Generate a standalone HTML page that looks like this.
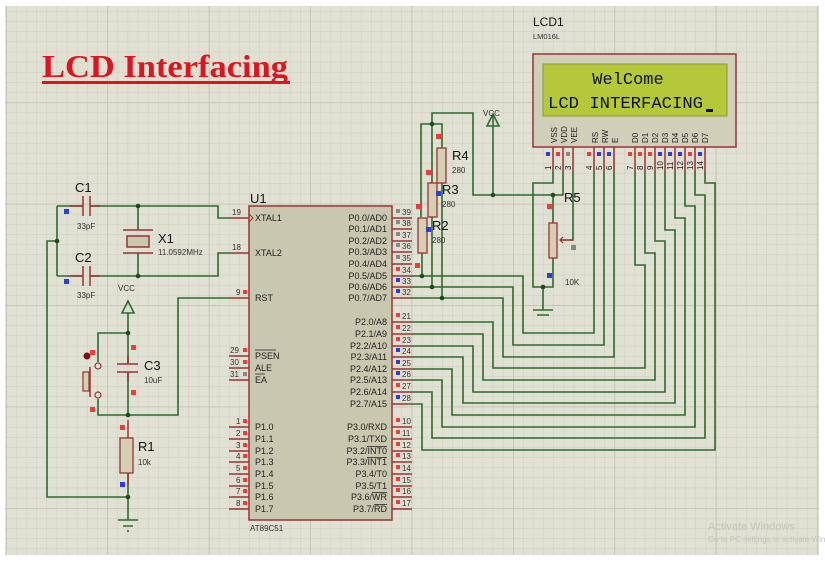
<!DOCTYPE html>
<html><head><meta charset="utf-8"><style>
html,body{margin:0;padding:0;background:#fff;}
svg{display:block;font-family:"Liberation Sans",sans-serif;}
.w{stroke:#2e6b2e;stroke-width:1.6;fill:none;}
.p{stroke:#9a3232;stroke-width:1.5;fill:none;}
.t{font-size:9px;fill:#222;}
.L{font-size:13px;fill:#111;}
.s{font-size:8px;fill:#333;}
.r{fill:#ee3b3b}.b{fill:#2b3de0}.g{fill:#888}
</style></head><body>
<svg width="825" height="561" viewBox="0 0 825 561" xmlns="http://www.w3.org/2000/svg">
<defs>
<pattern id="mn" x="6" y="1" width="10.14" height="10.14" patternUnits="userSpaceOnUse">
<path d="M0 0H10.14M0 0V10.14" stroke="#cdcdc0" stroke-width="1"/></pattern>
<pattern id="mj" x="6" y="1" width="101.4" height="101.4" patternUnits="userSpaceOnUse">
<path d="M0 0H101.4M0 0V101.4" stroke="#bdbdae" stroke-width="1.3"/></pattern>
</defs>
<rect x="5" y="6" width="814" height="549" fill="#e0e0d3"/>
<rect x="5" y="6" width="814" height="549" fill="url(#mn)"/>
<rect x="5" y="6" width="814" height="549" fill="url(#mj)"/>

<text x="42" y="77" font-family="Liberation Serif,serif" font-weight="bold" font-size="32" fill="#e0141e" textLength="246" lengthAdjust="spacingAndGlyphs">LCD Interfacing</text>
<rect x="42" y="81" width="248" height="3" fill="#e0141e"/>

<text x="533" y="26" class="L" style="font-size:12px">LCD1</text>
<text x="533" y="39" class="s" style="font-size:7.5px">LM016L</text>
<rect x="533" y="54" width="203" height="93" fill="#d0cfba" stroke="#9a3232" stroke-width="1.5"/>
<rect x="543" y="64" width="184" height="52" fill="#b4c83a" stroke="#8a9a30"/>
<text x="628" y="84" text-anchor="middle" font-family="Liberation Mono,monospace" font-size="17" fill="#111">WelCome</text>
<text x="548" y="108" font-family="Liberation Mono,monospace" font-size="17" fill="#111" textLength="155" lengthAdjust="spacingAndGlyphs">LCD INTERFACING</text>
<rect x="706" y="109" width="7" height="3" fill="#111"/>
<g font-size="8" fill="#222">
<text transform="translate(557,143) rotate(-90)">VSS</text>
<text transform="translate(567,143) rotate(-90)">VDD</text>
<text transform="translate(577,143) rotate(-90)">VEE</text>
<text transform="translate(598,143) rotate(-90)">RS</text>
<text transform="translate(608,143) rotate(-90)">RW</text>
<text transform="translate(618,143) rotate(-90)">E</text>
<text transform="translate(638,143) rotate(-90)">D0</text>
<text transform="translate(648,143) rotate(-90)">D1</text>
<text transform="translate(658,143) rotate(-90)">D2</text>
<text transform="translate(668,143) rotate(-90)">D3</text>
<text transform="translate(678,143) rotate(-90)">D4</text>
<text transform="translate(688,143) rotate(-90)">D5</text>
<text transform="translate(698,143) rotate(-90)">D6</text>
<text transform="translate(708,143) rotate(-90)">D7</text>
</g>
<g class="p">
<path d="M553 147V171M563 147V171M573 147V171M594 147V171M604 147V171M614 147V171M635 147V171M645 147V171M655 147V171M665 147V171M675 147V171M685 147V171M695 147V171M705 147V171"/>
</g>
<g font-size="8" fill="#222">
<text transform="translate(551,170) rotate(-90)">1</text>
<text transform="translate(561,170) rotate(-90)">2</text>
<text transform="translate(571,170) rotate(-90)">3</text>
<text transform="translate(592,170) rotate(-90)">4</text>
<text transform="translate(602,170) rotate(-90)">5</text>
<text transform="translate(612,170) rotate(-90)">6</text>
<text transform="translate(633,170) rotate(-90)">7</text>
<text transform="translate(643,170) rotate(-90)">8</text>
<text transform="translate(653,170) rotate(-90)">9</text>
<text transform="translate(663,170) rotate(-90)">10</text>
<text transform="translate(673,170) rotate(-90)">11</text>
<text transform="translate(683,170) rotate(-90)">12</text>
<text transform="translate(693,170) rotate(-90)">13</text>
<text transform="translate(703,170) rotate(-90)">14</text>
</g>
<g>
<rect x="546" y="152" width="4" height="4" class="b"/><rect x="556" y="152" width="4" height="4" class="r"/><rect x="566" y="152" width="4" height="4" class="g"/>
<rect x="587" y="152" width="4" height="4" class="r"/><rect x="597" y="152" width="4" height="4" class="b"/><rect x="607" y="152" width="4" height="4" class="b"/>
<rect x="628" y="152" width="4" height="4" class="r"/><rect x="638" y="152" width="4" height="4" class="r"/><rect x="648" y="152" width="4" height="4" class="r"/><rect x="658" y="152" width="4" height="4" class="b"/><rect x="668" y="152" width="4" height="4" class="b"/><rect x="678" y="152" width="4" height="4" class="b"/><rect x="688" y="152" width="4" height="4" class="r"/><rect x="698" y="152" width="4" height="4" class="b"/>
</g>

<text x="250" y="203" class="L">U1</text>
<rect x="249" y="206" width="143" height="314" fill="#c8c7af" stroke="#9a3232" stroke-width="1.5"/>
<text x="250" y="531" class="s">AT89C51</text>
<g class="p">
<path d="M229 218H249M229 253H249M229 298H249M229 356H249M229 368H249M229 380H249"/>
<path d="M229 427H249M229 439H249M229 451H249M229 462H249M229 474H249M229 486H249M229 497H249M229 509H249"/>
<path d="M392 218H412M392 229H412M392 241H412M392 252H412M392 264H412M392 276H412M392 287H412M392 298H412"/>
<path d="M392 322H412M392 334H412M392 346H412M392 357H412M392 369H412M392 380H412M392 392H412M392 404H412"/>
<path d="M392 427H412M392 439H412M392 451H412M392 462H412M392 474H412M392 486H412M392 497H412M392 509H412"/>
</g>
<path d="M249 214L253 218L249 222" fill="none" stroke="#9a3232" stroke-width="1"/>
<g class="t">
<text x="255" y="221">XTAL1</text><text x="255" y="256">XTAL2</text><text x="255" y="301">RST</text>
<text x="255" y="359">PSEN</text><text x="255" y="371">ALE</text><text x="255" y="383">EA</text>
<text x="255" y="430">P1.0</text><text x="255" y="442">P1.1</text><text x="255" y="454">P1.2</text><text x="255" y="465">P1.3</text><text x="255" y="477">P1.4</text><text x="255" y="489">P1.5</text><text x="255" y="500">P1.6</text><text x="255" y="512">P1.7</text>
</g>
<path d="M255 350H276M255 374H265" stroke="#222" stroke-width="0.8"/>
<g class="t" text-anchor="end">
<text x="387" y="221">P0.0/AD0</text><text x="387" y="232">P0.1/AD1</text><text x="387" y="244">P0.2/AD2</text><text x="387" y="255">P0.3/AD3</text><text x="387" y="267">P0.4/AD4</text><text x="387" y="279">P0.5/AD5</text><text x="387" y="290">P0.6/AD6</text><text x="387" y="301">P0.7/AD7</text>
<text x="387" y="325">P2.0/A8</text><text x="387" y="337">P2.1/A9</text><text x="387" y="349">P2.2/A10</text><text x="387" y="360">P2.3/A11</text><text x="387" y="372">P2.4/A12</text><text x="387" y="383">P2.5/A13</text><text x="387" y="395">P2.6/A14</text><text x="387" y="407">P2.7/A15</text>
<text x="387" y="430">P3.0/RXD</text><text x="387" y="442">P3.1/TXD</text><text x="387" y="454">P3.2/INT0</text><text x="387" y="465">P3.3/INT1</text><text x="387" y="477">P3.4/T0</text><text x="387" y="489">P3.5/T1</text><text x="387" y="500">P3.6/WR</text><text x="387" y="512">P3.7/RD</text>
</g>
<path d="M367 446.5H387M367 457.5H387M372 492.5H387M374 504.5H387" stroke="#222" stroke-width="0.8"/>
<g class="s" font-size="8.5">
<text x="232" y="215">19</text><text x="232" y="250">18</text><text x="236" y="295">9</text>
<text x="230" y="353">29</text><text x="230" y="365">30</text><text x="230" y="377">31</text>
<text x="236" y="424">1</text><text x="236" y="436">2</text><text x="236" y="448">3</text><text x="236" y="459">4</text><text x="236" y="471">5</text><text x="236" y="483">6</text><text x="236" y="494">7</text><text x="236" y="506">8</text>
<text x="402" y="215">39</text><text x="402" y="226">38</text><text x="402" y="238">37</text><text x="402" y="249">36</text><text x="402" y="261">35</text><text x="402" y="273">34</text><text x="402" y="284">33</text><text x="402" y="295">32</text>
<text x="402" y="319">21</text><text x="402" y="331">22</text><text x="402" y="343">23</text><text x="402" y="354">24</text><text x="402" y="366">25</text><text x="402" y="377">26</text><text x="402" y="389">27</text><text x="402" y="401">28</text>
<text x="402" y="424">10</text><text x="402" y="436">11</text><text x="402" y="448">12</text><text x="402" y="459">13</text><text x="402" y="471">14</text><text x="402" y="483">15</text><text x="402" y="494">16</text><text x="402" y="506">17</text>
</g>
<g>
<rect x="243" y="290" width="4" height="4" class="r"/><rect x="243" y="348" width="4" height="4" class="r"/><rect x="243" y="360" width="4" height="4" class="r"/><rect x="243" y="372" width="4" height="4" class="g"/>
<rect x="243" y="419" width="4" height="4" class="r"/><rect x="243" y="431" width="4" height="4" class="r"/><rect x="243" y="443" width="4" height="4" class="r"/><rect x="243" y="454" width="4" height="4" class="r"/><rect x="243" y="466" width="4" height="4" class="r"/><rect x="243" y="478" width="4" height="4" class="r"/><rect x="243" y="489" width="4" height="4" class="r"/><rect x="243" y="501" width="4" height="4" class="r"/>
<rect x="396" y="209" width="4" height="4" class="g"/><rect x="396" y="220" width="4" height="4" class="g"/><rect x="396" y="232" width="4" height="4" class="g"/><rect x="396" y="243" width="4" height="4" class="g"/><rect x="396" y="255" width="4" height="4" class="g"/><rect x="396" y="267" width="4" height="4" class="r"/><rect x="396" y="278" width="4" height="4" class="b"/><rect x="396" y="289" width="4" height="4" class="b"/>
<rect x="396" y="313" width="4" height="4" class="r"/><rect x="396" y="325" width="4" height="4" class="r"/><rect x="396" y="337" width="4" height="4" class="r"/><rect x="396" y="348" width="4" height="4" class="b"/><rect x="396" y="360" width="4" height="4" class="b"/><rect x="396" y="371" width="4" height="4" class="b"/><rect x="396" y="383" width="4" height="4" class="r"/><rect x="396" y="395" width="4" height="4" class="b"/>
<rect x="396" y="418" width="4" height="4" class="r"/><rect x="396" y="430" width="4" height="4" class="r"/><rect x="396" y="442" width="4" height="4" class="r"/><rect x="396" y="453" width="4" height="4" class="r"/><rect x="396" y="465" width="4" height="4" class="r"/><rect x="396" y="477" width="4" height="4" class="r"/><rect x="396" y="488" width="4" height="4" class="r"/><rect x="396" y="500" width="4" height="4" class="r"/>
</g>

<g class="w">
<path d="M412 276H523V333H594V171"/>
<path d="M412 287H513V345H604V171"/>
<path d="M412 298H503V357H614V171"/>
<path d="M412 322H493V368H645V265H635V171"/>
<path d="M412 334H483V380H655V253H645V171"/>
<path d="M412 346H473V392H665V241H655V171"/>
<path d="M412 357H463V403H675V230H665V171"/>
<path d="M412 369H452V415H685V218H675V171"/>
<path d="M412 380H442V427H695V206H685V171"/>
<path d="M412 392H432V438H705V195H695V171"/>
<path d="M412 404H422V450H715V183H705V171"/>
<path d="M432 183V113H473V195H563V171"/>
<path d="M421 217V124H442V148"/>
<path d="M442 183V298M432 217V287M422 253V276"/>
<path d="M493 195V116"/>
<path d="M553 171V183H533V287H553V258M553 195V223M573 171V240H561"/>
<path d="M543 287V310M533 310H553M537 315H549"/>
</g>
<path d="M487 126L493 114L499 126Z" fill="none" stroke="#2e6b2e" stroke-width="1.6"/>
<text x="483" y="116" class="s">VCC</text>
<g fill="#1e4a1e">
<circle cx="432" cy="124" r="2.3"/><circle cx="493" cy="195" r="2.3"/><circle cx="553" cy="195" r="2.3"/><circle cx="543" cy="287" r="2.3"/>
<circle cx="422" cy="276" r="2.3"/><circle cx="432" cy="287" r="2.3"/><circle cx="442" cy="298" r="2.3"/>
</g>
<g fill="#d4d0b4" stroke="#9a3232" stroke-width="1.3">
<rect x="437" y="148" width="9" height="35"/>
<rect x="428" y="183" width="9" height="34"/>
<rect x="418" y="218" width="9" height="35"/>
<rect x="549" y="223" width="8" height="35"/>
</g>
<path d="M573 240H560M563 237L560 240L563 243" stroke="#9a3232" stroke-width="1.2" fill="none"/>
<rect x="436" y="134" width="5" height="5" class="r"/><rect x="426" y="170" width="5" height="5" class="r"/><rect x="416" y="204" width="5" height="5" class="r"/><rect x="415" y="263" width="5" height="5" class="r"/>
<rect x="436" y="191" width="5" height="5" class="b"/><rect x="426" y="227" width="5" height="5" class="b"/>
<rect x="547" y="204" width="5" height="5" class="r"/><rect x="547" y="273" width="5" height="5" class="b"/><rect x="571" y="245" width="5" height="5" class="g"/>
<text x="452" y="160" class="L">R4</text><text x="452" y="173" class="s">280</text>
<text x="442" y="194" class="L">R3</text><text x="442" y="207" class="s">280</text>
<text x="432" y="230" class="L">R2</text><text x="432" y="243" class="s">280</text>
<text x="564" y="202" class="L">R5</text><text x="565" y="285" class="s">10K</text>

<g class="w">
<path d="M57 206H83M90 206H218V218H229"/>
<path d="M57 276H83M90 276H218V253H229"/>
<path d="M57 206V276M57 241H47V497H128"/>
<path d="M138 206V230M138 253V276"/>
<path d="M128 313V333H98V362M98 399V415H178V298H229"/>
<path d="M128 333V364M128 372V415M128 473V520"/>
<path d="M118 520H138M123 526H133M127 531H129"/>
</g>
<path d="M122 313L128 301L134 313Z" fill="none" stroke="#2e6b2e" stroke-width="1.6"/>
<text x="118" y="291" class="s">VCC</text>
<g stroke="#9a3232" stroke-width="1.5" fill="none">
<path d="M70 206H83M83 196V216M90 196V216M90 206H100"/>
<path d="M70 276H83M83 266V286M90 266V286M90 276H100"/>
<path d="M123 230H153M123 253H153"/>
<path d="M117 364H138M117 372H138M128 356V364M128 372V382"/>
<path d="M128 420V438M128 473V485"/>
<path d="M90 367V397"/>
</g>
<rect x="127" y="236" width="22" height="11" fill="#c8c7af" stroke="#9a3232" stroke-width="1.5"/>
<rect x="120" y="438" width="13" height="35" fill="#d4d0b4" stroke="#9a3232" stroke-width="1.3"/>
<rect x="83" y="372" width="6" height="19" fill="#d4d0b4" stroke="#9a3232" stroke-width="1.2"/>
<circle cx="98" cy="366" r="3" fill="#e0e0d3" stroke="#9a3232" stroke-width="1.2"/>
<circle cx="98" cy="395" r="3" fill="#e0e0d3" stroke="#9a3232" stroke-width="1.2"/>
<circle cx="87" cy="356" r="3.5" fill="#7a1010"/>
<rect x="90" y="350" width="5" height="5" class="r"/><rect x="90" y="407" width="5" height="5" class="r"/>
<rect x="131" y="345" width="5" height="5" class="r"/><rect x="131" y="390" width="5" height="5" class="r"/>
<rect x="120" y="425" width="5" height="5" class="r"/><rect x="120" y="482" width="5" height="5" class="b"/>
<rect x="64" y="209" width="5" height="5" class="b"/><rect x="64" y="279" width="5" height="5" class="b"/>
<g fill="#1e4a1e">
<circle cx="138" cy="206" r="2.3"/><circle cx="138" cy="276" r="2.3"/><circle cx="57" cy="241" r="2.3"/>
<circle cx="128" cy="333" r="2.3"/><circle cx="128" cy="415" r="2.3"/><circle cx="128" cy="497" r="2.3"/>
</g>
<text x="75" y="192" class="L">C1</text><text x="77" y="229" class="s">33pF</text>
<text x="75" y="262" class="L">C2</text><text x="77" y="298" class="s">33pF</text>
<text x="158" y="243" class="L">X1</text><text x="158" y="255" class="s">11.0592MHz</text>
<text x="144" y="370" class="L">C3</text><text x="144" y="383" class="s">10uF</text>
<text x="138" y="451" class="L">R1</text><text x="138" y="465" class="s">10k</text>

<text x="708" y="530" font-size="11" fill="#c4c4bc">Activate Windows</text>
<text x="708" y="542" font-size="8" fill="#c4c4bc">Go to PC settings to activate Windows.</text>
</svg>
</body></html>
